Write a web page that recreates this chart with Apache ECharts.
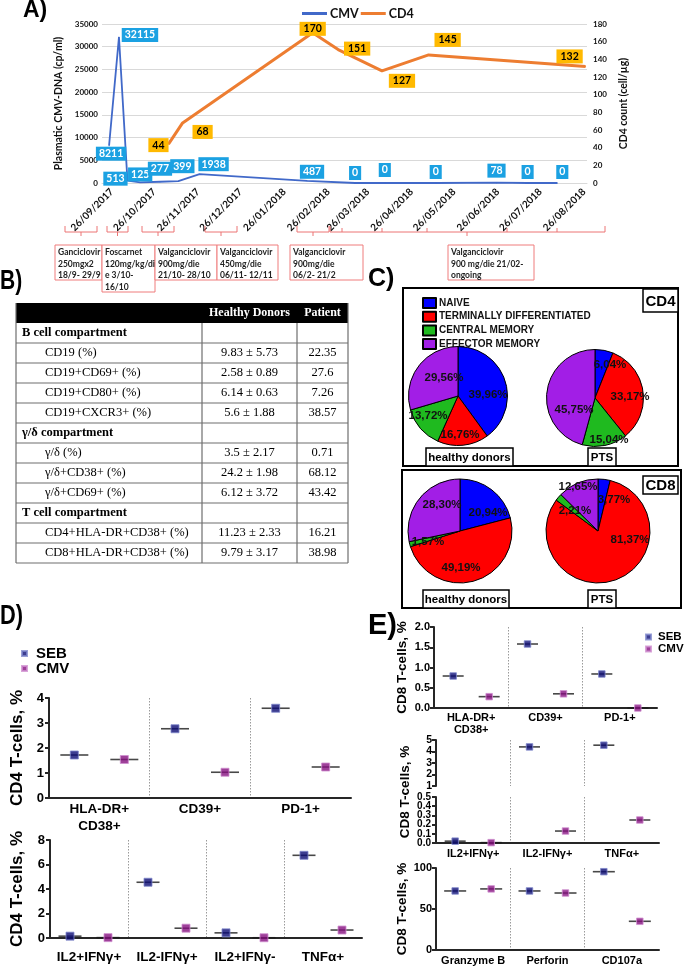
<!DOCTYPE html>
<html><head><meta charset="utf-8">
<script src="https://cdn.jsdelivr.net/npm/echarts@6/dist/echarts.min.js"></script>
<style>html,body{margin:0;padding:0;background:#fff}#c{width:685px;height:968px}</style>
</head><body><div id="c"></div>
<script>
// ================= DATA =================
// Panel A
const dateTicks = ['26/09/2017','26/10/2017','26/11/2017','26/12/2017','26/01/2018','26/02/2018','26/03/2018','26/04/2018','26/05/2018','26/06/2018','26/07/2018','26/08/2018'];
const cmvDates = ['24/09/2017','01/10/2017','07/10/2017','16/10/2017','30/10/2017','12/11/2017','27/11/2017','11/02/2018','17/03/2018','07/04/2018','13/05/2018','25/06/2018','17/07/2018','07/08/2018'];
const cmvValues = [8211,32115,513,125,277,399,1938,487,0,0,0,78,0,0];
const cd4Dates = ['05/11/2017','15/11/2017','15/02/2018','05/03/2018','05/04/2018','08/05/2018','27/08/2018'];
const cd4Values = [44,68,170,151,127,145,132];
const cmvTicks = [0,5000,10000,15000,20000,25000,30000,35000];
const cd4Ticks = [0,20,40,60,80,100,120,140,160,180];
const treatments = [
  ['Ganciclovir','250mgx2','18/9- 29/9'],
  ['Foscarnet','120mg/kg/di','e 3/10-','16/10'],
  ['Valganciclovir','900mg/die','21/10- 28/10'],
  ['Valganciclovir','450mg/die','06/11- 12/11'],
  ['Valganciclovir','900mg/die','06/2- 21/2'],
  ['Valganciclovir','900 mg/die 21/02-','ongoing']
];
// Panel B
const tableHeader = ['Healthy Donors','Patient'];
const tableSections = ['B cell compartment','γ/δ compartment','T cell compartment'];
const tableMarkers = [['CD19 (%)','CD19+CD69+ (%)','CD19+CD80+ (%)','CD19+CXCR3+ (%)'],['γ/δ (%)','γ/δ+CD38+ (%)','γ/δ+CD69+ (%)'],['CD4+HLA-DR+CD38+ (%)','CD8+HLA-DR+CD38+ (%)']];
const healthyMean = [[9.83,2.58,6.14,5.6],[3.5,24.2,6.12],[11.23,9.79]];
const healthySD = [[5.73,0.89,0.63,1.88],[2.17,1.98,3.72],[2.33,3.17]];
const patientVal = [[22.35,27.6,7.26,38.57],[0.71,68.12,43.42],[16.21,38.98]];
// Panel C
const subsetNames = ['NAIVE','TERMINALLY DIFFERENTIATED','CENTRAL MEMORY','EFFECTOR MEMORY'];
const cd4Healthy = [39.96,16.76,13.72,29.56];
const cd4PTS = [6.04,33.17,15.04,45.75];
const cd8Healthy = [20.94,49.19,1.57,28.30];
const cd8PTS = [3.77,81.37,2.21,12.65];
// Panel D
const dTopCats = ['HLA-DR+\nCD38+','CD39+','PD-1+'];
const dTopSEB = [1.72,2.77,3.59];
const dTopCMV = [1.54,1.03,1.24];
const dBotCats = ['IL2+IFNγ+','IL2-IFNγ+','IL2+IFNγ-','TNFα+'];
const dBotSEB = [0.15,4.55,0.42,6.75];
const dBotCMV = [0.03,0.8,0.02,0.65];
// Panel E
const eTopCats = ['HLA-DR+\nCD38+','CD39+','PD-1+'];
const eTopSEB = [0.79,1.58,0.84];
const eTopCMV = [0.28,0.35,0.0];
const eMidCats = ['IL2+IFNγ+','IL2-IFNγ+','TNFα+'];
const eMidSEB = [0.02,4.4,4.55];
const eMidCMV = [0.004,0.13,0.25];
const eMidLowTicks = [0,0.1,0.2,0.3,0.4,0.5];
const eBotCats = ['Granzyme B','Perforin','CD107a'];
const eBotSEB = [72,72,95.5];
const eBotCMV = [74.5,69.5,35];

// ================= STYLE =================
const SANS = 'Liberation Sans', SERIF = 'Liberation Serif', XL = 'Lato';
const cmvLabelOffsets = [[2,8],[21,-2],[-12,-2],[0,-8],[0,-13],[4,-15],[14,-10],[5,-9],[0,-10],[0,-13],[0,-11],[0,-12],[0,-11],[5,-11]];
const cd4LabelOffsets = [[-10,1],[20,9],[0,-4],[19,-1],[20,10],[19,-15],[-16,-10]];
const treatBoxes = [[55,245,47,35],[102,245,53,47],[155,245,62,35],[217,245,61,35],[290,245,73,35],[448,245,86,35]];
const brackets = [[65,97,81],[107,128,117.5],[142,174,158],[205,237,221],[297,329,313],[330,605,467]];
const longTicks = [342,382,427,507,557];
const pieColors = ['#0000ff','#ff0000','#1fba1f','#a21ee6'];
const pieGeo = [[458,396,49.5],[595,398,48.5],[460,531,52],[598,531,52]];
const pieLabelPos = [
  [[488,395],[460,435],[428,416],[444,378]],
  [[610,365],[630,397],[609,440],[574,410]],
  [[488,513],[461,568],[428,542],[442,505]],
  [[614,500],[630,540],[575,511],[578,487]]
];
const SEBC = '#0c0c74', SEBB = '#8088cc', CMVC = '#86107f', CMVB = '#cf8fcf';

// ================= HELPERS =================
const parseDate = s => { const p = s.split('/').map(Number); return new Date(p[2], p[1]-1, p[0]).getTime(); };
const pad2 = n => (n < 10 ? '0' : '') + n;
const fmtDate = ts => { const d = new Date(ts); return pad2(d.getDate()) + '/' + pad2(d.getMonth()+1) + '/' + d.getFullYear(); };

const grids = [], xAxes = [], yAxes = [], series = [], graphics = [];

function text(t, x, y, font, fill, align, valign, extra) {
  const el = {type:'text', x:x, y:y, z:100, silent:true,
    style:Object.assign({text:t, font:font, fill:fill||'#000', textAlign:align||'left', align:align||'left',
      textVerticalAlign:valign||'middle', verticalAlign:valign||'middle'}, extra||{})};
  graphics.push(el); return el;
}
function rect(x, y, w, h, stroke, lw, fill, z) {
  graphics.push({type:'rect', z:z||50, silent:true, shape:{x:x, y:y, width:w, height:h},
    style:{stroke:stroke||'none', lineWidth:lw||1, fill:fill||'none'}});
}
function line(x1, y1, x2, y2, stroke, lw, z) {
  graphics.push({type:'line', z:z||50, silent:true, shape:{x1:x1, y1:y1, x2:x2, y2:y2}, style:{stroke:stroke, lineWidth:lw}});
}
function poly(pts, stroke, lw) {
  graphics.push({type:'polyline', z:50, silent:true, shape:{points:pts}, style:{stroke:stroke, lineWidth:lw, fill:'none'}});
}

// ================= PANEL A =================
grids.push({left:102, top:24, width:485, height:159, outerBoundsMode:'none'});
xAxes.push({gridIndex:0, type:'value', min:parseDate('19/09/2017'), max:parseDate('28/08/2018'),
  axisLine:{show:true, lineStyle:{color:'#d9d9d9', width:1}}, axisTick:{show:false}, splitLine:{show:false},
  axisLabel:{customValues:dateTicks.map(parseDate), formatter:v => fmtDate(v), rotate:45, margin:7,
    fontFamily:XL, fontWeight:'bold', fontSize:10, color:'#111', hideOverlap:false, showMinLabel:true, showMaxLabel:true}});
yAxes.push({gridIndex:0, type:'value', position:'left', min:cmvTicks[0], max:cmvTicks[cmvTicks.length-1], interval:cmvTicks[1]-cmvTicks[0],
  name:'Plasmatic CMV-DNA (cp/ml)', nameLocation:'middle', nameGap:31,
  nameTextStyle:{fontFamily:XL, fontWeight:'bold', fontSize:10.5, color:'#111'},
  axisLine:{show:false}, axisTick:{show:false},
  splitLine:{show:true, lineStyle:{color:'#d9d9d9', width:1}},
  axisLabel:{margin:4, fontFamily:XL, fontWeight:'bold', fontSize:8, color:'#111', hideOverlap:false, formatter:v => String(v)}});
yAxes.push({gridIndex:0, type:'value', position:'right', min:cd4Ticks[0], max:cd4Ticks[cd4Ticks.length-1], interval:cd4Ticks[1]-cd4Ticks[0],
  name:'CD4 count (cell/µg)', nameLocation:'middle', nameGap:29,
  nameTextStyle:{fontFamily:XL, fontWeight:'bold', fontSize:10.5, color:'#111'},
  axisLine:{show:false}, axisTick:{show:false}, splitLine:{show:false},
  axisLabel:{margin:6, fontFamily:XL, fontWeight:'bold', fontSize:8, color:'#111', hideOverlap:false, formatter:v => String(v)}});

series.push({type:'line', name:'CMV', xAxisIndex:0, yAxisIndex:0, symbol:'circle', symbolSize:1, z:3,
  lineStyle:{color:'#4169c9', width:1.8}, itemStyle:{color:'#4169c9'},
  label:{show:true, position:'inside', formatter:p => p.value[1], backgroundColor:'#1ba1e2', color:'#fff',
    fontFamily:XL, fontWeight:'bold', fontSize:10.5, padding:[2,3,1,3]},
  data:cmvDates.map((d,i) => ({value:[parseDate(d), cmvValues[i]], label:{offset:cmvLabelOffsets[i]}}))});
series.push({type:'line', name:'CD4', xAxisIndex:0, yAxisIndex:1, symbol:'circle', symbolSize:1, z:4,
  lineStyle:{color:'#ed7d31', width:3}, itemStyle:{color:'#ed7d31'},
  label:{show:true, position:'inside', formatter:p => p.value[1], backgroundColor:'#ffb900', color:'#000',
    fontFamily:XL, fontWeight:'bold', fontSize:10.5, padding:[2,4,1,4]},
  data:cd4Dates.map((d,i) => ({value:[parseDate(d), cd4Values[i]], label:{offset:cd4LabelOffsets[i]}}))});

// treatment annotations
brackets.forEach(b => {
  poly([[b[0],226],[b[0],232],[b[1],232],[b[1],226]], '#ec7474', 1);
  line(b[2],232,b[2],236,'#ec7474',1);
});
longTicks.forEach(x => line(x,232,x,228,'#ec7474',1));
treatments.forEach((lines,i) => {
  const b = treatBoxes[i];
  rect(b[0], b[1], b[2], b[3], '#ef7c7c', 1, '#fff');
  text(lines.join('\n'), b[0]+3, b[1]+2, 'bold 8.5px ' + XL, '#222', 'left', 'top', {lineHeight:11.5});
});

// ================= PANEL B (table) =================
const TL = 16, TR = 348, TT = 303, RH = 20, C1 = 202, C2 = 297;
rect(TL, TT, TR-TL, 20, 'none', 0, '#000');
text(tableHeader[0], (C1+C2)/2, TT+10, 'bold 12px ' + SERIF, '#fff', 'center');
text(tableHeader[1], (C2+TR)/2, TT+10, 'bold 12px ' + SERIF, '#fff', 'center');
const rows = [];
tableSections.forEach((s,si) => {
  rows.push({label:s, bold:true});
  tableMarkers[si].forEach((m,mi) => rows.push({label:m, h:healthyMean[si][mi] + ' ± ' + healthySD[si][mi], p:String(patientVal[si][mi])}));
});
const tBottom = TT + 20 + rows.length*RH;
rows.forEach((r,i) => {
  const yc = TT + 20 + i*RH + RH/2;
  if (r.bold) text(r.label, 22, yc, 'bold 12.5px ' + SERIF, '#000', 'left');
  else {
    text(r.label, 45, yc, '12.5px ' + SERIF, '#000', 'left');
    text(r.h, (C1+C2)/2, yc, '12.5px ' + SERIF, '#000', 'center');
    text(r.p, (C2+TR)/2, yc, '12.5px ' + SERIF, '#000', 'center');
  }
  line(TL, TT+20+(i+1)*RH, TR, TT+20+(i+1)*RH, '#6e6e6e', 1.2);
});
line(TL, TT, TL, tBottom, '#6e6e6e', 1.2);
line(TR, TT, TR, tBottom, '#6e6e6e', 1.2);
line(C1, TT+20, C1, tBottom, '#6e6e6e', 1.2);
line(C2, TT+20, C2, tBottom, '#6e6e6e', 1.2);

// ================= PANEL C (pies) =================
const pieSets = [cd4Healthy, cd4PTS, cd8Healthy, cd8PTS];
pieSets.forEach((vals,k) => {
  const g = pieGeo[k];
  series.push({type:'pie', name:'pie'+k, center:[g[0],g[1]], radius:g[2], startAngle:90, clockwise:true,
    silent:true, label:{show:false}, labelLine:{show:false}, z:5,
    itemStyle:{borderColor:'#000', borderWidth:1},
    data:vals.map((v,i) => ({name:subsetNames[i], value:v, itemStyle:{color:pieColors[i]}}))});
  vals.forEach((v,i) => {
    const p = pieLabelPos[k][i];
    text(v.toFixed(2).replace('.', ',') + '%', p[0], p[1], 'bold 11.5px ' + SANS, '#111', 'center');
  });
});
rect(403, 288, 275, 178, '#000', 2, 'none', 40);
rect(402, 470, 279, 138, '#000', 2, 'none', 40);
[[643,289,35,23,'CD4'],[643,476,35,18,'CD8']].forEach(b => {
  rect(b[0], b[1], b[2], b[3], '#000', 1.5, '#fff', 90);
  text(b[4], b[0]+b[2]/2, b[1]+b[3]/2+1, 'bold 15px ' + SANS, '#000', 'center');
});
[[426,448,87,18,'healthy donors'],[588,448,28,18,'PTS'],[423,590,86,18,'healthy donors'],[588,590,28,18,'PTS']].forEach(b => {
  rect(b[0], b[1], b[2], b[3], '#000', 1.5, '#fff', 90);
  text(b[4], b[0]+b[2]/2, b[1]+b[3]/2+1, 'bold 11.5px ' + SANS, '#000', 'center');
});

// ================= PANELS D & E (dot plots) =================
function addDotPanel(cfg) {
  const gi = grids.length;
  grids.push(Object.assign({outerBoundsMode:'none'}, cfg.grid));
  const catIdx = xAxes.length;
  xAxes.push({gridIndex:gi, type:'category', data:cfg.cats, show:cfg.showX !== false, position:'bottom',
    axisLine:{show:true, onZero:false, lineStyle:{color:'#262626', width:2}}, axisTick:{show:false},
    axisLabel:{interval:0, margin:cfg.labelMargin, fontFamily:SANS, fontWeight:'bold', fontSize:cfg.catFont, color:'#000', lineHeight:cfg.catLH, hideOverlap:false}});
  xAxes.push({gridIndex:gi, type:'value', position:'top', min:0, max:cfg.cats.length, interval:1,
    axisLine:{show:false}, axisTick:{show:false}, axisLabel:{show:false},
    splitLine:{show:true, showMinLine:false, showMaxLine:false, lineStyle:{color:'#9a9a9a', type:[1.5,1.5], width:1}}});
  const yi = yAxes.length;
  const yLabel = {show:!cfg.manualLabels, margin:cfg.tickMargin, fontFamily:SANS, fontWeight:'bold', fontSize:cfg.tickFont, color:'#000',
      hideOverlap:false, showMinLabel:true, showMaxLabel:true, formatter:cfg.fmt || (v => String(v))};
  yAxes.push({gridIndex:gi, type:'value', min:cfg.min, max:cfg.max, interval:cfg.interval,
    name:cfg.title || '', nameLocation:'middle', nameGap:cfg.nameGap || 20,
    nameTextStyle:{fontFamily:SANS, fontWeight:'bold', fontSize:cfg.titleFont || 12, color:'#000'},
    axisLine:{show:true, lineStyle:{color:'#262626', width:2}},
    axisTick:{show:true, length:4, lineStyle:{color:'#262626', width:2}},
    splitLine:{show:false},
    axisLabel:yLabel});
  const off = cfg.off;
  const mk = (name, data, dx, isLine, c, bc) => ({type:'scatter', name:name, xAxisIndex:catIdx, yAxisIndex:yi,
    data:data, symbol:'rect', symbolSize:isLine ? [cfg.lineLen, 1.6] : cfg.mSize, symbolOffset:[dx,0],
    itemStyle:isLine ? {color:'#1a1a1a'} : {color:c, borderColor:bc, borderWidth:1},
    z:isLine ? 3 : 4, clip:false, silent:true});
  series.push(mk('SEB median', cfg.seb, -off, true));
  series.push(mk('CMV median', cfg.cmv, off, true));
  series.push(mk('SEB', cfg.seb, -off, false, SEBC, SEBB));
  series.push(mk('CMV (stim)', cfg.cmv, off, false, CMVC, CMVB));
  return yi;
}
addDotPanel({grid:{left:49, top:698, width:302, height:100}, cats:dTopCats, seb:dTopSEB, cmv:dTopCMV,
  min:0, max:4, interval:1, tickFont:13, tickMargin:5, catFont:13.5, catLH:17, labelMargin:3,
  off:25, lineLen:28, mSize:8, title:'CD4 T-cells, %', nameGap:23, titleFont:17});
addDotPanel({grid:{left:50, top:840, width:312, height:98}, cats:dBotCats, seb:dBotSEB, cmv:dBotCMV,
  min:0, max:8, interval:2, tickFont:13, tickMargin:5, catFont:13.5, catLH:16, labelMargin:11,
  off:19, lineLen:23, mSize:8, title:'CD4 T-cells, %', nameGap:24, titleFont:17});
addDotPanel({grid:{left:434, top:627, width:223, height:81}, cats:eTopCats, seb:eTopSEB, cmv:eTopCMV,
  min:0, max:2, interval:0.5, fmt:v => v.toFixed(1), tickFont:11, tickMargin:4, catFont:11, catLH:12, labelMargin:4,
  off:18, lineLen:21, mSize:6.5, title:'CD8 T-cells, %', nameGap:25, titleFont:13.5});
addDotPanel({grid:{left:436, top:740, width:223, height:46}, cats:eMidCats,
  seb:eMidSEB.map(v => v >= 1 ? v : '-'), cmv:eMidCMV.map(v => v >= 1 ? v : '-'), showX:false,
  min:1, max:5, interval:1, tickFont:10.5, tickMargin:4, catFont:11, catLH:12, labelMargin:5,
  off:18, lineLen:21, mSize:6.5});
const eMidLowAxis = addDotPanel({grid:{left:436, top:797, width:223, height:46}, cats:eMidCats,
  seb:eMidSEB.map(v => v <= 0.5 ? v : '-'), cmv:eMidCMV.map(v => v <= 0.5 ? v : '-'),
  min:0, max:0.5, interval:0.1, manualLabels:true, tickFont:10, tickMargin:4, catFont:11, catLH:12, labelMargin:5,
  off:18, lineLen:21, mSize:6.5});
addDotPanel({grid:{left:436, top:868, width:223, height:82}, cats:eBotCats, seb:eBotSEB, cmv:eBotCMV,
  min:0, max:100, interval:50, tickFont:11, tickMargin:4, catFont:11, catLH:12, labelMargin:5,
  off:18, lineLen:22, mSize:6.5, title:'CD8 T-cells, %', nameGap:24, titleFont:13.5});
const midTitle = text('CD8 T-cells, %', 405, 792, 'bold 13.5px ' + SANS, '#000', 'center', 'middle');
midTitle.rotation = Math.PI/2;

// ================= PANEL LETTERS =================
text('A)', 23, 22, 'bold 23px ' + SANS, '#000', 'left', 'bottom');
const bLet = text('B)', 0, 295, 'bold 27px ' + SANS, '#000', 'left', 'bottom'); bLet.scaleX = 0.78;
text('C)', 368, 292, 'bold 25px ' + SANS, '#000', 'left', 'bottom');
const dLet = text('D)', 0, 630, 'bold 28px ' + SANS, '#000', 'left', 'bottom'); dLet.scaleX = 0.78;
text('E)', 368, 640, 'bold 29px ' + SANS, '#000', 'left', 'bottom');

// ================= CHART =================
const chart = echarts.init(document.getElementById('c'), null, {renderer:'canvas', width:685, height:968});
chart.setOption({
  animation:false,
  backgroundColor:'#fff',
  grid:grids, xAxis:xAxes, yAxis:yAxes, series:series,
  legend:[
    {data:['CMV','CD4'], left:297, top:2, icon:'rect', itemWidth:25, itemHeight:3, itemGap:2,
      textStyle:{fontFamily:XL, fontWeight:'bold', fontSize:12.5, color:'#111', padding:[0,0,0,-2]}},
    {data:subsetNames, left:417, top:292, orient:'vertical', icon:'rect', itemWidth:13, itemHeight:10, itemGap:1.7,
      textStyle:{fontFamily:SANS, fontWeight:'bold', fontSize:10, color:'#111', lineHeight:10, padding:[0,0,0,-2]}},
    {data:['SEB','CMV (stim)'], left:16, top:641, orient:'vertical', icon:'rect', itemWidth:5, itemHeight:5, itemGap:0,
      formatter:n => n === 'CMV (stim)' ? 'CMV' : n,
      textStyle:{fontFamily:SANS, fontWeight:'bold', fontSize:15, color:'#000', lineHeight:13, padding:[0,0,0,4]}},
    {data:['SEB','CMV (stim)'], left:640, top:626, orient:'vertical', icon:'rect', itemWidth:5, itemHeight:5, itemGap:0,
      formatter:n => n === 'CMV (stim)' ? 'CMV' : n,
      textStyle:{fontFamily:SANS, fontWeight:'bold', fontSize:11.5, color:'#000', lineHeight:10, padding:[0,0,0,2]}}
  ],
  graphic:{elements:graphics}
});
// tick labels of the lower broken-axis segment, placed through the axis scale
const lowLabels = eMidLowTicks.map((v,i) => ({
  type:'text', id:'emlow'+i, z:100, silent:true,
  x:436 - 5, y:chart.convertToPixel({yAxisIndex:eMidLowAxis}, v),
  style:{text:v.toFixed(1), font:'bold 10px ' + SANS, fill:'#000', textAlign:'right', align:'right',
    textVerticalAlign:'middle', verticalAlign:'middle'}
}));
chart.setOption({graphic:{elements:lowLabels}});
</script>
</body></html>
